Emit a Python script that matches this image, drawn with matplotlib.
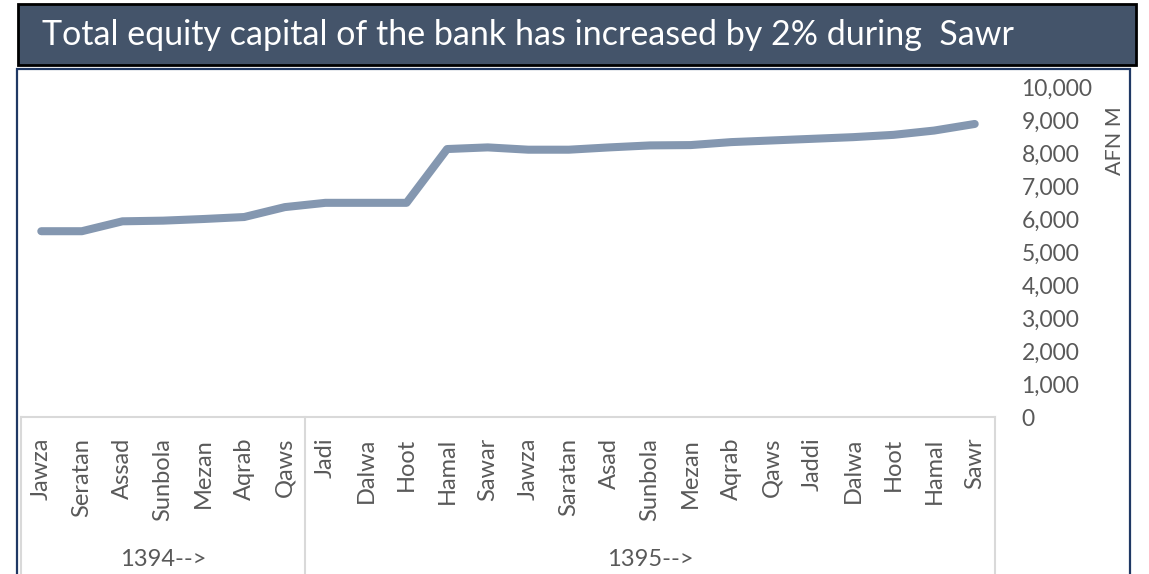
import matplotlib
matplotlib.use("Agg")
import matplotlib.pyplot as plt
import matplotlib.transforms as mtransforms
from matplotlib.patches import Rectangle
from matplotlib.lines import Line2D
from matplotlib.ticker import FuncFormatter

# data (AFN millions)
months = ["Jawza", "Seratan", "Assad", "Sunbola", "Mezan", "Aqrab", "Qaws",
          "Jadi", "Dalwa", "Hoot", "Hamal", "Sawar", "Jawza", "Saratan", "Asad",
          "Sunbola", "Mezan", "Aqrab", "Qaws", "Jaddi", "Dalwa", "Hoot", "Hamal", "Sawr"]
years = ["1394-->", "1395-->"]
months_per_year = [7, 17]
equity = [5630, 5630, 5930, 5950, 6000, 6060, 6360,
          6490, 6490, 6490, 8120, 8170, 8100, 8100, 8170,
          8230, 8240, 8330, 8380, 8430, 8480, 8550, 8680, 8880]

title = "Total equity capital of the bank has increased by 2% during  Sawr"

plt.rcParams["font.family"] = ["Lato", "DejaVu Sans"]

W, H = 1149, 574
fig = plt.figure(figsize=(W / 100, H / 100), dpi=100)
fig.patch.set_facecolor("white")


def fx(x):
    return x / W


def fy(y):
    return 1 - y / H


# outer navy frame
fig.add_artist(Rectangle((fx(17), fy(600)), (1130 - 17) / W, (600 - 69) / H,
                         transform=fig.transFigure, fill=False,
                         edgecolor="#1F3864", lw=1.6, zorder=1))

# title bar
fig.add_artist(Rectangle((fx(18), fy(65)), (1136 - 18) / W, (65 - 4) / H,
                         transform=fig.transFigure, facecolor="#44546A",
                         edgecolor="black", lw=2, zorder=3))
fig.text(fx(42), fy(35), title, color="white", fontsize=24.5,
         ha="left", va="center", zorder=4)

ax = fig.add_axes([fx(21), fy(417), (995 - 21) / W, (417 - 87) / H])
x = list(range(len(months)))
ax.plot(x, equity, color="#8497B0", lw=5.8, solid_capstyle="round",
        solid_joinstyle="round")

ax.set_xlim(-0.5, len(months) - 0.5)
ax.set_ylim(0, 10000)
ax.set_yticks(range(0, 10001, 1000))
ax.yaxis.set_major_formatter(FuncFormatter(lambda v, p: f"{v:,.0f}"))
ax.yaxis.tick_right()
ax.tick_params(axis="y", length=0, pad=19, labelsize=16.5, labelcolor="#595959")

ax.set_xticks(x)
ax.set_xticklabels(months, rotation=90, va="top", ha="center")
ax.tick_params(axis="x", length=0, pad=15, labelsize=17, labelcolor="#595959")

for s in ["top", "left", "right"]:
    ax.spines[s].set_visible(False)
ax.spines["bottom"].set_color("#D9D9D9")
ax.spines["bottom"].set_linewidth(1.5)

# multi-level category box
trans = mtransforms.blended_transform_factory(ax.transData, fig.transFigure)
edges = [-0.5]
for n in months_per_year:
    edges.append(edges[-1] + n)
for e in edges:
    fig.add_artist(Line2D([e, e], [fy(417), 0], transform=trans,
                          color="#D9D9D9", lw=1.5))
for i, yr in enumerate(years):
    mid = (edges[i] + edges[i + 1]) / 2
    fig.text(mid, fy(560), yr, transform=trans, ha="center", va="center",
             fontsize=17, color="#595959")

fig.text(fx(1115), fy(141), "AFN M", rotation=90, ha="center", va="center",
         fontsize=15.5, color="#595959")

fig.savefig("out.png", dpi=100)
